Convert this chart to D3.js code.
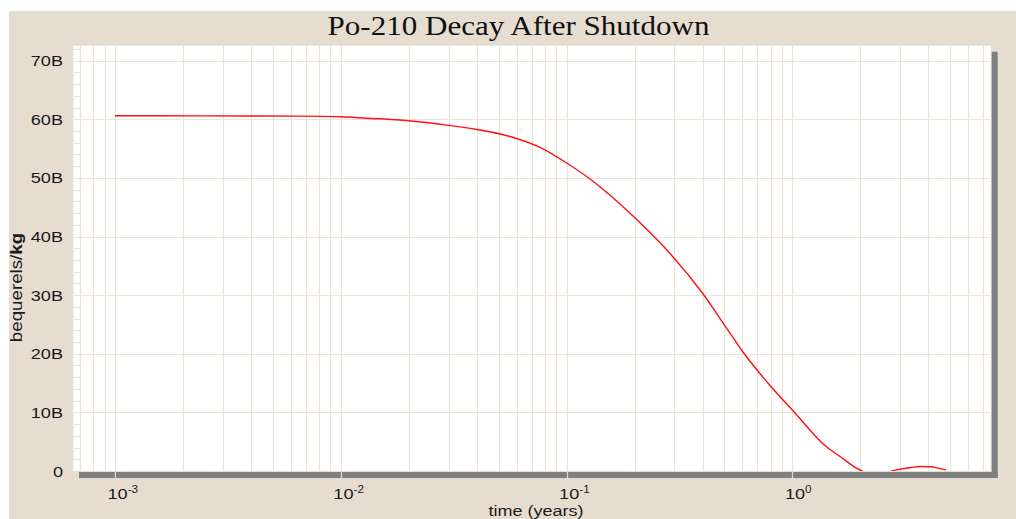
<!DOCTYPE html>
<html>
<head>
<meta charset="utf-8">
<script src="https://cdn.jsdelivr.net/npm/d3@7"></script>
<style>
  html, body { margin: 0; padding: 0; background: #ffffff; }
  svg { display: block; }
</style>
</head>
<body>
<svg id="chart" width="1016" height="519"></svg>
<script>
// Po-210 activity after reactor shutdown (billions of Bq per kg)
const timeYears = [0.001, 0.002379, 0.006597, 0.01, 0.01306, 0.0183, 0.0275, 0.04011, 0.05615, 0.07623,
                   0.1, 0.1257, 0.1505, 0.2043, 0.2456, 0.287, 0.4031, 0.5029, 0.6061, 0.796,
                   1.027, 1.394, 1.625, 1.993, 2.16, 2.55, 2.88, 3.34, 3.69, 4.08, 4.51, 4.79];
const activityB = [60.62, 60.59, 60.55, 60.43, 60.19, 59.89, 59.17, 58.27, 57.07, 55.2,
                   52.55, 49.94, 47.52, 42.91, 39.87, 37.11, 30.15, 24.77, 20.22, 14.59,
                   9.9, 4.35, 2.47, 0.17, -0.3, -0.3, 0.2, 0.6, 0.78, 0.73, 0.4, 0.2];
const yTickValues = [0, 10, 20, 30, 40, 50, 60, 70];
const yTickLabels = ["0", "10B", "20B", "30B", "40B", "50B", "60B", "70B"];
const xDecades = [-3, -2, -1, 0];

const svg = d3.select("#chart");
const W = 1016, H = 519;
const plot = { left: 73.3, right: 990.7, top: 45.7, bottom: 471 };
const beige = "#E6DDD0";
const gridColor = "#EDE4D9";
const sans = "Liberation Sans, Arial, sans-serif";
const stretch = 1.17; // text is drawn slightly wide

// page background
svg.append("rect").attr("x", 9).attr("y", 11).attr("width", W - 9).attr("height", H - 11).attr("fill", beige);

const x = d3.scaleLog().domain([6.535e-4, 7.553]).range([plot.left, plot.right]);
const y = d3.scaleLinear().domain([0, 72.56]).range([plot.bottom, plot.top]);

// drop shadow of the plot frame
svg.append("rect").attr("x", 79).attr("y", plot.bottom + 1).attr("width", 997.7 - 79).attr("height", 6).attr("fill", "#808080");
svg.append("rect").attr("x", 991.7).attr("y", 51.7).attr("width", 6).attr("height", 478 - 51.7).attr("fill", "#808080");

// plot area
svg.append("rect").attr("x", plot.left).attr("y", plot.top)
  .attr("width", plot.right - plot.left).attr("height", plot.bottom - plot.top).attr("fill", "#ffffff");

// vertical log grid
const vGrid = [];
for (let k = -4; k <= 0; k++) {
  for (let m = 1; m <= 9; m++) {
    const v = m * Math.pow(10, k);
    if (v >= x.domain()[0] && v <= x.domain()[1]) vGrid.push(v);
  }
}
svg.append("g").selectAll("line").data(vGrid).join("line")
  .attr("x1", d => Math.round(x(d)) + 0.5).attr("x2", d => Math.round(x(d)) + 0.5)
  .attr("y1", plot.top).attr("y2", plot.bottom)
  .attr("stroke", gridColor).attr("stroke-width", 1.2);

// major decade ticks through the shadow bar
svg.append("g").selectAll("line").data(xDecades).join("line")
  .attr("x1", d => Math.round(x(Math.pow(10, d))) + 0.5).attr("x2", d => Math.round(x(Math.pow(10, d))) + 0.5)
  .attr("y1", plot.bottom).attr("y2", plot.bottom + 7)
  .attr("stroke", "#E4DCD0").attr("stroke-width", 1.2);

// horizontal grid: full lines at major ticks, short marks at minor ticks
const minorY = d3.range(2, 73, 2).filter(v => v % 10 !== 0);
svg.append("g").selectAll("line").data(minorY).join("line")
  .attr("x1", plot.left).attr("x2", plot.left + 7)
  .attr("y1", d => Math.round(y(d)) + 0.5).attr("y2", d => Math.round(y(d)) + 0.5)
  .attr("stroke", gridColor).attr("stroke-width", 1.2);
svg.append("g").selectAll("line").data(yTickValues.filter(v => v > 0)).join("line")
  .attr("x1", plot.left).attr("x2", plot.right)
  .attr("y1", d => Math.round(y(d)) + 0.5).attr("y2", d => Math.round(y(d)) + 0.5)
  .attr("stroke", gridColor).attr("stroke-width", 1.2);

// y tick labels
svg.append("g").selectAll("text").data(yTickValues).join("text")
  .attr("transform", d => `translate(63,${y(d) + 5.5}) scale(${stretch},1)`)
  .attr("text-anchor", "end")
  .attr("font-family", sans).attr("font-size", 15.5)
  .attr("fill", "#1a1a1a")
  .text((d, i) => yTickLabels[i]);

// x tick labels: 10 with superscript exponent
const xl = svg.append("g").selectAll("text").data(xDecades).join("text")
  .attr("transform", d => `translate(${x(Math.pow(10, d)) - 7.5},498.5) scale(${stretch},1)`)
  .attr("font-family", sans).attr("font-size", 15.5)
  .attr("fill", "#1a1a1a");
xl.append("tspan").text("10");
xl.append("tspan").attr("font-size", 10).attr("dy", -6).text(d => String(d));

// axis titles
svg.append("text").attr("transform", `translate(536,515.5) scale(1.2,1)`)
  .attr("text-anchor", "middle")
  .attr("font-family", sans).attr("font-size", 15)
  .attr("fill", "#1a1a1a").text("time (years)");

const yt = svg.append("text").attr("transform", `translate(21.5,287.5) rotate(-90) scale(${stretch},1)`)
  .attr("text-anchor", "middle")
  .attr("font-family", sans).attr("font-size", 16)
  .attr("fill", "#1a1a1a");
yt.append("tspan").text("bequerels/");
yt.append("tspan").attr("font-weight", "bold").text("kg");

// title
svg.append("text").attr("transform", "translate(518.5,35) scale(1.15,1)")
  .attr("text-anchor", "middle")
  .attr("font-family", "Liberation Serif, Times New Roman, serif").attr("font-size", 27)
  .attr("fill", "#111").text("Po-210 Decay After Shutdown");

// decay curve, clipped to the plot area
svg.append("clipPath").attr("id", "plotClip").append("rect")
  .attr("x", plot.left).attr("y", plot.top)
  .attr("width", plot.right - plot.left).attr("height", plot.bottom - plot.top);

const pts = timeYears.map((t, i) => [t, activityB[i]]);
const line = d3.line().x(d => x(d[0])).y(d => y(d[1])).curve(d3.curveMonotoneX);
svg.append("path").datum(pts)
  .attr("clip-path", "url(#plotClip)")
  .attr("d", line)
  .attr("fill", "none").attr("stroke", "#FF1010").attr("stroke-width", 1.4);
</script>
</body>
</html>
